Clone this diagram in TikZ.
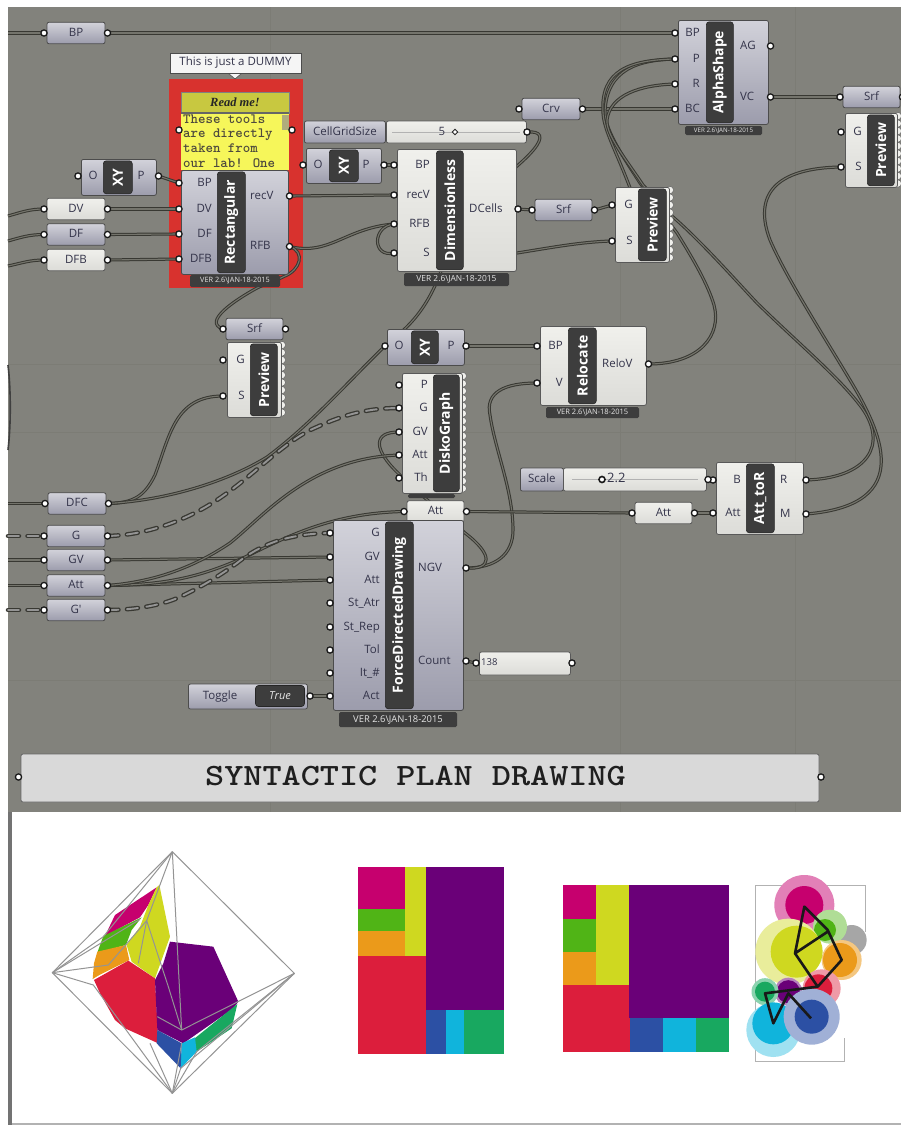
\documentclass[tikz,border=0pt]{standalone}
\usepackage{fontspec}
\usepackage{graphicx}
\usetikzlibrary{calc}
\newfontfamily\ghf{Open Sans}
\newfontfamily\ghserif{Liberation Serif}
\definecolor{canvasc}{HTML}{82827C}
\definecolor{gridc}{HTML}{7C7C75}
\definecolor{wirec}{HTML}{383832}
\definecolor{wirei}{HTML}{74746C}
\definecolor{labc}{HTML}{34344A}
\definecolor{gtop}{HTML}{D2D2DA}
\definecolor{gmid}{HTML}{ABABBB}
\definecolor{gbot}{HTML}{9C9CAC}
\definecolor{wtop}{HTML}{F0F0EC}
\definecolor{wbot}{HTML}{DCDCD8}
\definecolor{groupred}{HTML}{D8322E}
\definecolor{notehead}{HTML}{C8C840}
\definecolor{notebody}{HTML}{F6F65A}
\definecolor{tmagenta}{HTML}{C6006E}
\definecolor{tgreen}{HTML}{50B416}
\definecolor{torange}{HTML}{EB9A1A}
\definecolor{tyellow}{HTML}{CFD820}
\definecolor{tred}{HTML}{DC1E3C}
\definecolor{tpurple}{HTML}{6A0078}
\definecolor{tblue}{HTML}{2C50A4}
\definecolor{tcyan}{HTML}{10B4DC}
\definecolor{tsea}{HTML}{18A860}
\pgfdeclarelayer{ground}
\pgfdeclarelayer{wires}
\pgfsetlayers{ground,wires,main}
\tikzset{
  gbody/.style={draw=black!70,line width=.8pt,rounded corners=2pt,top color=gtop,middle color=gmid,bottom color=gbot},
  wbody/.style={draw=black!65,line width=.8pt,rounded corners=2pt,top color=wtop,bottom color=wbot},
  gbar/.style={fill=black!76,draw=black!85,line width=.6pt,rounded corners=3pt},
  bartitle/.style={text=white,font=\ghf\bfseries\fontsize{14}{16}\selectfont,rotate=90,inner sep=0pt},
  grip/.style={circle,draw=black!90,line width=1.3pt,fill=white,minimum size=6.2pt,inner sep=0pt},
  portlab/.style={text=labc,font=\ghf\fontsize{11.5}{13}\selectfont,inner sep=0pt,text height=8.5pt,text depth=2.2pt},
  foot/.style={fill=black!76,rounded corners=1.5pt,inner sep=0pt,text=white!90!black},
  wire/.style={draw=wirec,line width=1pt,double=wirei,double distance=1.1pt},
  dashwire/.style={draw=wirec,line width=1.3pt,double=black!42,double distance=1.9pt,line cap=round,dash pattern=on 11pt off 8.5pt},
  octline/.style={draw=black!42,line width=1pt,line join=round},
}
\newcommand{\comp}[9]{%
  \pgfmathsetmacro{\cw}{#4-#2}\pgfmathsetmacro{\ch}{#5-#3}%
  \node[#6,anchor=north west,inner sep=0pt,minimum width=\cw pt,minimum height=\ch pt] (#1) at (#2,#3) {};
  \pgfmathsetmacro{\bw}{#8-#7}\pgfmathsetmacro{\bh}{\ch-3}%
  \pgfmathsetmacro{\bby}{#3+1.5}%
  \node[gbar,anchor=north west,inner sep=0pt,minimum width=\bw pt,minimum height=\bh pt] (#1-bar) at (#7,\bby) {};
  \node[bartitle] (#1-title) at (#1-bar.center) {#9};
}
\newcommand{\ports}[5]{%
  \foreach \yy/\id/\lab in {#5} {
    \node[grip] (#1-\id) at (#2,\yy) {};
    \node[portlab,anchor=#4] (#1-\id-t) at (#3,\yy) {\lab};
  }
}
\newcommand{\pill}[6]{%
  \pgfmathsetmacro{\cw}{#3-#2}\pgfmathsetmacro{\cx}{(#3+#2)/2}%
  \node[#6,inner sep=0pt,minimum width=\cw pt,minimum height=21.5pt,portlab] (#1) at (\cx,#4) {#5};
  \pgfmathsetmacro{\gl}{#2-3}\pgfmathsetmacro{\gr}{#3+2.5}%
  \node[grip] (#1-l) at (\gl,#4) {};
  \node[grip] (#1-r) at (\gr,#4) {};
}
\newcommand{\verfoot}[6]{%
  \pgfmathsetmacro{\cw}{#3-#2}\pgfmathsetmacro{\ch}{#5-#4}\pgfmathsetmacro{\cx}{(#3+#2)/2}\pgfmathsetmacro{\cy}{(#5+#4)/2}%
  \node[foot,minimum width=\cw pt,minimum height=\ch pt,font=\ghf\fontsize{#6}{#6}\selectfont] (#1) at (\cx,\cy) {VER 2.6\textbackslash JAN-18-2015};
}
\newcommand{\scallop}[3]{%
  \pgfmathsetmacro{\snext}{#2+7.5}%
  \foreach \sy in {#2,\snext,...,#3}{
    \filldraw[fill=wtop,draw=black!60,line width=.5pt] (#1+.8,\sy) circle (3.7pt);
  }
}
\begin{document}
\begin{tikzpicture}[x=1pt,y=-1pt]
\useasboundingbox (0,0) rectangle (901,1125);
\begin{pgfonlayer}{ground}
  \fill[white] (0,0) rectangle (901,1125);
  \fill[canvasc] (8,7) rectangle (901,812);
  \fill[black!55] (8,812) rectangle (12,1125);
  \fill[black!30] (12,1122.5) rectangle (901,1125);
  \draw[gridc,line width=.6pt] (270,7)--(270,812) (620,7)--(620,812) (795,7)--(795,812)
     (8,364)--(901,364) (8,432)--(901,432) (8,680)--(901,680);
  \draw[black!75,line width=1.6pt] (8,365) .. controls (11,390) and (11,425) .. (8,450);
  \fill[groupred] (169,79) rectangle (303,288);
\end{pgfonlayer}

% ---- tooltip and read-me panel
\fill[white!96!black,draw=black!70,line width=.6pt] (228,73)--(235,79)--(242,73)--cycle;
\node[draw=black!70,line width=.8pt,fill=white!96!black,inner sep=0pt,minimum width=131pt,minimum height=20pt,text=labc,font=\ghf\fontsize{11.5}{13}\selectfont] (tip) at (235.5,63) {This is just a DUMMY};
\node[fill=notehead,draw=black!50,line width=.5pt,inner sep=0pt,minimum width=108pt,minimum height=21pt,font=\ghserif\bfseries\itshape\fontsize{12.5}{14}\selectfont,text=black!85] (readh) at (235,102.5) {Read me!};
\node[fill=notebody,inner sep=0pt,minimum width=108pt,minimum height=57pt,anchor=north] (readb) at (235,113) {};
\draw[black!60,line width=1.6pt] (readb.north west)--(readb.north east);
\fill[yellow!45!black!65!white] (282,115) rectangle (288.5,130);
\node[anchor=north west,align=left,inner sep=0pt,font=\ttfamily\fontseries{b}\fontsize{14.2}{14.6}\selectfont,text=black!80!yellow] (readt) at (183,114.5) {These tools\\are directly\\taken from\\our lab! One};
\node[grip] (read-l) at (179,130) {};
\node[grip] (read-r) at (292,130) {};

% ---- pills at left
\pill{bpA}{47}{105}{33}{BP}{gbody}
\pill{dv}{47}{105}{209}{DV}{wbody}
\pill{df}{47}{105}{234.5}{DF}{gbody}
\pill{dfb}{47}{105}{260}{DFB}{wbody}
\pill{dfc}{48}{106}{503.5}{DFC}{gbody}
\pill{gA}{47}{105}{536}{G}{gbody}
\pill{gvA}{47}{105}{560}{GV}{gbody}
\pill{attA}{47}{105}{585.5}{Att}{gbody}
\pill{gB}{47}{105}{610}{G'}{gbody}

% ---- XY components
\comp{xyA}{81}{159}{156}{195}{gbody}{103}{132}{XY}
\node[portlab] (xyA-Ot) at (93,176) {O}; \node[portlab] (xyA-Pt) at (141,176) {P};
\node[grip] (xyA-O) at (78,176) {}; \node[grip] (xyA-P) at (158.5,176) {};
\comp{xyB}{306}{148}{381}{183}{gbody}{329}{358}{XY}
\node[portlab] (xyB-Ot) at (318,165) {O}; \node[portlab] (xyB-Pt) at (366,165) {P};
\node[grip] (xyB-O) at (303,165) {}; \node[grip] (xyB-P) at (384,165) {};
\comp{xyC}{387}{329}{464}{365}{gbody}{411}{438}{XY}
\node[portlab] (xyC-Ot) at (399,346) {O}; \node[portlab] (xyC-Pt) at (451,346) {P};
\node[grip] (xyC-O) at (385,346) {}; \node[grip] (xyC-P) at (466,346) {};

% ---- Rectangular
\comp{rect}{181}{170}{288}{274}{gbody}{217}{245}{Rectangular}
\ports{rect}{179}{212}{east}{183/BP/BP,209/DV/DV,234/DF/DF,259/DFB/DFB}
\ports{rect}{289.5}{250}{west}{196/recV/recV,246.5/RFB/RFB}
\verfoot{rectf}{190}{280}{275}{287}{7.3}

% ---- slider CellGridSize
\node[gbody,anchor=west,inner sep=0pt,minimum width=81pt,minimum height=22pt,portlab] (sla) at (304,132) {CellGridSize};
\node[wbody,anchor=west,inner sep=0pt,minimum width=140pt,minimum height=22pt] (slat) at (386,132) {};
\draw[white!70!black,line width=.6pt] (392,132)--(520,132);
\node[portlab] (slav) at (442,132) {5};
\node[draw=black!85,line width=.9pt,fill=white,inner sep=0pt,minimum size=4pt,rotate=45] (slah) at (455,132) {};
\node[grip] (sla-r) at (527,132) {};

% ---- Dimensionless
\comp{dim}{397}{149}{516}{271}{wbody}{436}{463}{Dimensionless}
\ports{dim}{394}{430}{east}{165/BP/BP,195/recV/recV,224/RFB/RFB,253/S/S}
\ports{dim}{518}{469}{west}{209/DCells/DCells}
\verfoot{dimf}{404}{509}{273}{286}{8.4}

% ---- Pills middle
\pill{srfA}{535}{592}{210}{Srf}{gbody}
\pill{crv}{522}{580}{109}{Crv}{gbody}
\pill{srfB}{843}{900}{97}{Srf}{gbody}
\pill{srfC}{226}{283}{329}{Srf}{gbody}
\pill{attB}{407}{464}{511.5}{Att}{wbody}
\pill{attC}{635}{692}{513}{Att}{wbody}

% ---- AlphaShape
\comp{alpha}{678}{20}{768}{124}{gbody}{706}{733}{AlphaShape}
\ports{alpha}{675}{700}{east}{33/BP/BP,59/P/P,84/R/R,109/BC/BC}
\ports{alpha}{770.5}{740}{west}{46/AG/AG,97/VC/VC}
\verfoot{alphaf}{685}{762}{126}{135}{6.2}

% ---- Previews
\scallop{669}{190}{258}
\comp{prevA}{615}{187}{669}{262}{wbody}{638}{666}{Preview}
\ports{prevA}{612}{633}{east}{205/G/G,241/S/S}
\scallop{897}{116}{184}
\comp{prevB}{845}{113}{897}{187}{wbody}{867}{894}{Preview}
\ports{prevB}{841}{862}{east}{132/G/G,167/S/S}
\scallop{281}{345}{414}
\comp{prevC}{227}{342}{281}{417}{wbody}{250}{277}{Preview}
\ports{prevC}{223}{245}{east}{360/G/G,396/S/S}

% ---- DiskoGraph
\scallop{462}{376}{490}
\comp{disko}{402}{373}{462}{493}{wbody}{433}{459}{DiskoGraph}
\ports{disko}{399}{428}{east}{385/P/P,408/G/G,432/GV/GV,455/Att/Att,478/Th/Th}
\node[foot,minimum width=47pt,minimum height=4pt] (diskof) at (431.5,496) {};

% ---- Relocate
\comp{reloc}{540}{326}{646}{405}{wbody}{568}{596}{Relocate}
\ports{reloc}{537}{563}{east}{346/BP/BP,383/V/V}
\ports{reloc}{648.5}{602}{west}{364/ReloV/ReloV}
\verfoot{relocf}{546}{639}{407}{418}{7.5}

% ---- Att_toR
\comp{att}{716}{462}{803}{534}{wbody}{746}{774}{Att\_toR}
\ports{att}{713}{741}{east}{480/B/B,513/Att/Att}
\ports{att}{806}{780}{west}{480/R/R,514/M/M}

% ---- slider Scale
\node[gbody,anchor=west,inner sep=0pt,minimum width=43pt,minimum height=23pt,portlab] (slb) at (520,479.5) {Scale};
\node[wbody,anchor=west,inner sep=0pt,minimum width=143pt,minimum height=23pt] (slbt) at (563,479.5) {};
\draw[white!70!black,line width=.6pt] (572,479.5)--(698,479.5);
\node[circle,draw=black!90,line width=1.6pt,fill=white,inner sep=0pt,minimum size=6pt] (slbh) at (602,479.5) {};
\node[portlab,anchor=west,font=\ghf\fontsize{13}{13}\selectfont] (slbv) at (607,479.5) {2.2};
\node[grip] (slb-r) at (708,479.5) {};

% ---- ForceDirectedDrawing
\comp{force}{333}{520}{463}{710}{gbody}{385}{413}{ForceDirectedDrawing}
\ports{force}{330}{380}{east}{533/G/G,557/GV/GV,580/Att/Att,603/StAtr/St\_Atr,627/StRep/St\_Rep,650/Tol/Tol,673/It/It\_\#,696/Act/Act}
\ports{force}{466}{418}{west}{568/NGV/NGV,661/Count/Count}
\verfoot{forcef}{339}{457}{712}{727}{9.4}

% ---- number panel
\node[wbody,anchor=west,inner sep=0pt,minimum width=91pt,minimum height=23pt] (num) at (479,663.5) {};
\node[anchor=west,portlab,font=\ghf\fontsize{9.5}{10}\selectfont] (numt) at (481,662) {138};
\node[grip] (num-l) at (476,663) {};
\node[grip] (num-r) at (572,663) {};

% ---- toggle
\node[gbody,anchor=west,inner sep=0pt,minimum width=119pt,minimum height=25pt] (tog) at (188,696.5) {};
\node[portlab,anchor=center] (togt) at (220,696) {Toggle};
\node[gbar,inner sep=0pt,minimum width=49pt,minimum height=21pt,text=white!90!black,font=\ghf\itshape\fontsize{11}{12}\selectfont] (togv) at (280,696) {True};
\node[grip] (tog-r) at (310,696) {};

% ---- title panel
\node[draw=black!60,line width=.8pt,fill=black!15,rounded corners=2pt,inner sep=0pt,minimum width=798pt,minimum height=48pt] (title) at (420,778) {};
\node[inner sep=0pt,font=\ttfamily\fontseries{b}\fontsize{31}{34}\selectfont,text=black!88] (titlet) at (415.5,776) {\scalebox{1.175}[1]{SYNTACTIC PLAN DRAWING}};
\node[grip] (title-l) at (18.5,777) {};
\node[grip] (title-r) at (821,777) {};

% ---- free ends
\coordinate (eBP) at (8,33);
\coordinate (eDV) at (8,216);
\coordinate (eDF) at (8,241);
\coordinate (eDFB) at (8,266);
\coordinate (eDFC) at (8,503.5);
\coordinate (eG) at (8,536);
\coordinate (eGV) at (8,560);
\coordinate (eAtt) at (8,585.5);
\coordinate (eGb) at (8,610);

% ---- wires
\begin{pgfonlayer}{wires}
\draw[wire] (eBP)--(bpA-l.center);
\draw[wire] (bpA-r.center)--(alpha-BP.center);
\draw[wire] (eDV) .. controls (22,212) and (30,209) .. (dv-l.center);
\draw[wire] (eDF) .. controls (22,237) and (30,234.5) .. (df-l.center);
\draw[wire] (eDFB) .. controls (22,263) and (30,260) .. (dfb-l.center);
\draw[wire] (dv-r.center)--(rect-DV.center);
\draw[wire] (df-r.center)--(rect-DF.center);
\draw[wire] (dfb-r.center)--(rect-DFB.center);
\draw[wire] (xyA-P.center)--(rect-BP.center);
\draw[wire] (rect-recV.center)--(dim-recV.center);
\draw[wire] (rect-RFB.center) .. controls (330,256) and (345,228) .. (dim-RFB.center);
\draw[wire] (dim-S.center) .. controls (372,258) and (372,226) .. (dim-RFB.center);
\draw[wire] (xyB-P.center)--(dim-BP.center);
\draw[wire] (rect-RFB.center) .. controls (306,252) and (300,270) .. (285,276) .. controls (275,281) and (265,284) .. (257,288) .. controls (235,300) and (202,322) .. (srfC-l.center);
\draw[wire] (sla-r.center) .. controls (555,130) and (540,155) .. (dim.center);
\draw[wire] (dim-DCells.center)--(srfA-l.center);
\draw[wire] (srfA-r.center)--(prevA-G.center);
\draw[wire] (dim-S.center) .. controls (470,272) and (540,243) .. (prevA-S.center);
\draw[wire] (crv-r.center)--(alpha-BC.center);
\draw[wire] (alpha-VC.center)--(srfB-l.center);
% through the left preview
\draw[wire] (alpha-P.center) .. controls (640,60) and (606,68) .. (605,113) .. controls (605,130) and (625,160) .. (640,183) -- (677,233) .. controls (695,262) and (708,285) .. (714,305) .. controls (722,335) and (700,364) .. (reloc-ReloV.center);
\draw[wire] (alpha-P.center) .. controls (630,60) and (600,70) .. (603,113) .. controls (604,135) and (625,165) .. (prevA.center);
\draw[wire] (alpha-R.center) .. controls (640,85) and (610,95) .. (607,120) .. controls (606,135) and (625,158) .. (643,185) -- (673,217) .. controls (700,240) and (740,285) .. (757,303) .. controls (800,345) and (840,378) .. (862,408) .. controls (888,445) and (868,478) .. (att-R.center);
\draw[wire] (prevB-S.center) .. controls (775,168) and (753,195) .. (770,240) .. controls (785,275) and (820,330) .. (850,380) .. controls (880,430) and (918,505) .. (att-M.center);
% lower part
\draw[wire] (xyC-P.center)--(reloc-BP.center);
\draw[wire] (eDFC)--(dfc-l.center);
\draw[wire] (dfc-r.center) .. controls (135,503) and (145,495) .. (155,475) .. controls (170,435) and (175,396) .. (prevC-S.center);
\draw[wire] (dfc-r.center) .. controls (170,500) and (230,480) .. (267,457) .. controls (310,425) and (345,385) .. (xyC-O.center);
\draw[wire] (xyC-O.center) .. controls (410,325) and (440,305) .. (dim.center);
\draw[wire] (reloc-V.center) .. controls (505,383) and (485,392) .. (490,415) .. controls (495,450) and (513,490) .. (513,530) .. controls (513,555) and (495,568) .. (force-NGV.center);
\draw[wire] (force-NGV.center) .. controls (492,570) and (494,555) .. (465,533) .. controls (440,510) and (420,495) .. (398,473) .. controls (374,450) and (372,432) .. (disko-GV.center);
\draw[wire] (attB-r.center)--(attC-l.center);
\draw[wire] (attC-r.center)--(att-Att.center);
\draw[wire] (slb-r.center)--(att-B.center);
\draw[wire] (eGV)--(gvA-l.center);
\draw[wire] (gvA-r.center)--(force-GV.center);
\draw[wire] (eAtt)--(attA-l.center);
\draw[wire] (attA-r.center)--(force-Att.center);
\draw[wire] (attA-r.center) .. controls (170,585) and (205,575) .. (245,557) .. controls (285,538) and (330,513) .. (attB-l.center);
\draw[wire] (attA-r.center) .. controls (150,582) and (190,570) .. (230,543) .. controls (265,515) and (310,458) .. (disko-Att.center);
\draw[dashwire] (eG)--(gA-l.center);
\draw[dashwire] (eGb)--(gB-l.center);
\draw[dashwire] (gA-r.center) .. controls (150,535) and (190,518) .. (217,500) .. controls (255,475) and (285,440) .. (317,427) .. controls (345,414) and (370,408) .. (disko-G.center);
\draw[dashwire] (gB-r.center) .. controls (135,610) and (165,605) .. (184,595) .. controls (205,585) and (225,572) .. (237,563) .. controls (260,545) and (285,534) .. (force-G.center);
\draw[wire] (force-Count.center)--(num-l.center);
\draw[wire] (tog-r.center)--(force-Act.center);
\end{pgfonlayer}

% ---- octahedron drawing (coordinates of a 3x enlargement)
\begin{scope}[shift={(20,830)},x=.33333pt,y=-.33333pt]
  \fill[tmagenta] (410,172)--(285,255)--(255,318)--(360,262)--(385,225)--cycle;
  \fill[tgreen] (250,318)--(365,262)--(335,300)--(318,345)--(232,368)--cycle;
  \fill[torange] (232,365)--(318,345)--(328,390)--(238,435)--(218,447)--(222,400)--cycle;
  \fill[tyellow] (410,172)--(418,165)--(450,320)--(405,445)--(335,395)--(320,345)--(360,290)--(385,225)--cycle;
  \fill[tred] (222,450)--(325,392)--(405,445)--(415,640)--(315,595)--(285,570)--(240,490)--cycle;
  \fill[tpurple] (450,335)--(580,350)--(655,515)--(640,535)--(490,640)--(412,600)--(405,450)--(430,400)--cycle;
  \fill[tsea] (652,522)--(635,595)--(530,665)--(518,630)--cycle;
  \fill[tcyan] (485,640)--(525,622)--(530,665)--(482,715)--cycle;
  \fill[tblue] (412,600)--(485,640)--(482,715)--(410,640)--cycle;
  \draw[octline] (457,65)--(97,428)--(457,790)--(823,430)--cycle;
  \draw[octline] (457,65)--(485,600)--(823,430);
  \draw[octline] (457,65)--(250,320)--(97,428)--(265,405)--(380,272)--(457,65);
  \draw[octline] (97,428)--(220,465)--(457,790);
  \draw[octline] (97,428)--(360,268);
  \draw[octline] (380,272)--(355,400);
  \draw[octline] (380,272)--(445,470)--(485,600);
  \draw[octline] (412,560)--(485,600);
  \draw[octline] (457,790)--(390,640);
  \draw[octline] (457,790)--(485,640);
  \draw[octline] (457,790)--(482,715)--(823,430);
  \draw[octline] (457,790)--(530,665)--(823,430);
\end{scope}

% ---- treemaps
\begin{scope}[shift={(340,850)},x=.33333pt,y=-.33333pt]
  \fill[tmagenta] (55,52) rectangle (195,178);
  \fill[tyellow] (195,52) rectangle (260,318);
  \fill[tgreen] (55,178) rectangle (195,243);
  \fill[torange] (55,243) rectangle (195,318);
  \fill[tred] (55,318) rectangle (258,612);
  \fill[tpurple] (258,52) rectangle (493,480);
  \fill[tblue] (258,480) rectangle (318,612);
  \fill[tcyan] (318,480) rectangle (372,612);
  \fill[tsea] (372,480) rectangle (493,612);
  \fill[tmagenta] (668,105) rectangle (768,207);
  \fill[tgreen] (668,207) rectangle (768,306);
  \fill[torange] (668,306) rectangle (768,405);
  \fill[tyellow] (768,105) rectangle (867,405);
  \fill[tred] (668,405) rectangle (870,605);
  \fill[tpurple] (868,105) rectangle (1167,505);
  \fill[tblue] (870,505) rectangle (970,605);
  \fill[tcyan] (970,505) rectangle (1068,605);
  \fill[tsea] (1068,505) rectangle (1167,605);
\end{scope}

% ---- bubble graph
\begin{scope}[shift={(745,875)},x=.33333pt,y=-.33333pt]
  \draw[black!30,line width=1pt] (298,490)--(298,560)--(30,560)--(30,30)--(362,30)--(362,170);
  \fill[tmagenta!50!white] (178,90) circle (30pt);
  \fill[tmagenta] (178,90) circle (19pt);
  \fill[black!35] (320,195) circle (15pt);
  \fill[tgreen!45!white] (255,155) circle (17pt);
  \fill[tgreen] (240,165) circle (11pt);
  \fill[torange!55!white] (290,255) circle (20pt);
  \fill[torange] (285,255) circle (17pt);
  \fill[tyellow!45!white] (130,230) circle (33pt);
  \fill[tyellow] (155,230) circle (26pt);
  \fill[tred!45!white] (230,340) circle (19pt);
  \fill[tred] (220,340) circle (14pt);
  \fill[tpurple!50!white] (130,350) circle (14pt);
  \fill[tpurple] (130,350) circle (11.5pt);
  \fill[tsea!50!white] (60,350) circle (13.5pt);
  \fill[tsea] (60,350) circle (10pt);
  \fill[tcyan!40!white] (85,465) circle (27pt);
  \fill[tcyan] (85,445) circle (21pt);
  \fill[tblue!45!white] (200,425) circle (28pt);
  \fill[tblue] (200,425) circle (17pt);
  \draw[black!90,line width=2.6pt,line join=round] (150,235)--(178,95)--(248,165)--(290,255)--(218,335)--(150,235)--(248,170);
  \draw[black!90,line width=2.6pt,line join=round] (218,335)--(60,355)--(85,445)--(130,355)--(198,430);
\end{scope}
\end{tikzpicture}
\end{document}
